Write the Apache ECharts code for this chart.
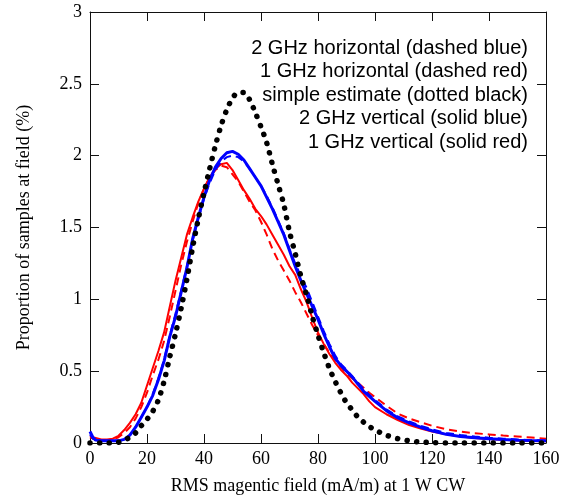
<!DOCTYPE html>
<html>
<head>
<meta charset="utf-8">
<script src="https://cdn.jsdelivr.net/npm/echarts@6/dist/echarts.min.js"></script>
<style>
html,body{margin:0;padding:0;background:#fff;}
#chart{width:569px;height:500px;}
</style>
</head>
<body>
<div id="chart"></div>
<script>
const xs = [0,1,2,4,6,8,10,12,14,16,18,20,22,24,26,28,30,32,34,36,38,40,42,44,46,48,50,52,54,56,58,60,62,64,66,68,70,72,74,76,78,80,82,84,86,88,90,92,94,96,98,100,104,108,112,116,120,125,130,135,140,145,150,155,160];

const simpleEstimate = [0,0,0,0,0,0,
  0.005,0.02,0.04,0.07,0.12,0.165,0.22,0.30,0.43,0.60,
  0.76,0.94,1.14,1.36,1.56,1.74,1.91,2.07,2.21,2.32,
  2.40,2.44,2.44,2.39,2.30,2.20,2.09,1.94,1.80,1.66,
  1.47,1.32,1.16,1.03,0.88,0.75,0.63,0.52,0.43,0.35,
  0.28,0.23,0.18,0.145,0.115,0.09,
  0.055,0.03,0.015,0.007,0.003,
  0,0,0,0,0,0,0,0];

const ghz2Vertical = [0.08,0.04,0.02,0.015,0.015,0.015,
  0.015,0.025,0.055,0.11,0.18,0.25,0.33,0.44,0.57,0.74,
  0.88,1.05,1.22,1.42,1.57,1.71,1.83,1.92,1.98,2.02,
  2.03,2.01,1.97,1.91,1.85,1.79,1.71,1.63,1.54,1.45,
  1.34,1.23,1.13,1.04,0.95,0.86,0.76,0.67,0.59,0.54,
  0.50,0.46,0.41,0.36,0.325,0.29,
  0.225,0.175,0.14,0.11,0.085,
  0.06,0.045,0.037,0.03,0.024,0.02,0.017,0.015];

const ghz2Horizontal = [0.06,0.03,0.02,0.015,0.015,0.015,
  0.015,0.025,0.055,0.11,0.18,0.25,0.34,0.45,0.58,0.75,
  0.90,1.06,1.23,1.41,1.56,1.70,1.81,1.90,1.96,1.99,
  2.00,1.99,1.96,1.91,1.85,1.79,1.72,1.64,1.55,1.46,
  1.35,1.25,1.16,1.08,0.98,0.88,0.78,0.69,0.61,0.55,
  0.51,0.465,0.42,0.375,0.335,0.30,
  0.235,0.185,0.15,0.12,0.095,
  0.07,0.055,0.045,0.037,0.03,0.025,0.02,0.018];

const ghz1Vertical = [0.05,0.04,0.035,0.025,0.025,0.03,
  0.05,0.09,0.14,0.20,0.28,0.40,0.52,0.64,0.77,0.95,
  1.13,1.29,1.45,1.57,1.68,1.77,1.85,1.91,1.94,1.95,
  1.90,1.83,1.76,1.70,1.63,1.58,1.52,1.45,1.38,1.31,
  1.23,1.17,1.07,0.98,0.87,0.77,0.69,0.62,0.56,0.51,
  0.47,0.42,0.38,0.34,0.29,0.25,
  0.20,0.16,0.125,0.10,0.08,
  0.06,0.045,0.035,0.028,0.022,0.018,0.014,0.012];

const ghz1Horizontal = [0.04,0.03,0.025,0.02,0.02,0.025,
  0.04,0.07,0.11,0.17,0.25,0.35,0.47,0.58,0.71,0.88,
  1.06,1.24,1.40,1.54,1.67,1.77,1.85,1.90,1.93,1.92,
  1.87,1.82,1.75,1.68,1.62,1.54,1.45,1.35,1.27,1.20,
  1.13,1.05,0.98,0.90,0.82,0.75,0.69,0.63,0.58,0.53,
  0.48,0.45,0.42,0.385,0.35,0.32,
  0.26,0.205,0.17,0.145,0.12,
  0.095,0.08,0.068,0.06,0.052,0.045,0.038,0.03];

const legendLines = [
  '2 GHz horizontal (dashed blue)',
  '1 GHz horizontal (dashed red)',
  'simple estimate (dotted black)',
  '2 GHz vertical (solid blue)',
  '1 GHz vertical (solid red)'
];

const xTitle = 'RMS magentic field (mA/m) at 1 W CW';
const yTitle = 'Proportion of samples at field (%)';

const pairs = arr => xs.map((x, i) => [x, arr[i]]);
const serif = 'Liberation Serif, Times New Roman, serif';
const sans = 'Liberation Sans, Arial, sans-serif';
const axisCol = '#111';

const chart = echarts.init(document.getElementById('chart'), null, {renderer: 'canvas'});

const baseX = {
  type: 'value', min: 0, max: 160, interval: 20,
  axisLine: {show: true, onZero: false, lineStyle: {color: axisCol, width: 1}},
  axisTick: {show: true, inside: true, length: 9, lineStyle: {color: axisCol}},
  splitLine: {show: false}
};
const baseY = {
  type: 'value', min: 0, max: 3, interval: 0.5,
  axisLine: {show: true, onZero: false, lineStyle: {color: axisCol, width: 1}},
  axisTick: {show: true, inside: true, length: 9, lineStyle: {color: axisCol}},
  splitLine: {show: false}
};

const option = {
  animation: false,
  backgroundColor: '#fff',
  grid: {left: 90, right: 23, top: 12, bottom: 57},
  xAxis: [
    Object.assign({}, baseX, {
      position: 'bottom',
      axisLabel: {fontFamily: serif, fontSize: 18, color: '#000', margin: 7},
      name: xTitle, nameLocation: 'middle', nameGap: 34,
      nameTextStyle: {fontFamily: serif, fontSize: 18, color: '#000'}
    }),
    Object.assign({}, baseX, {position: 'top', axisLabel: {show: false}})
  ],
  yAxis: [
    Object.assign({}, baseY, {
      position: 'left',
      axisLabel: {fontFamily: serif, fontSize: 18, color: '#000', margin: 8},
      name: yTitle, nameLocation: 'middle', nameGap: 57,
      nameTextStyle: {fontFamily: serif, fontSize: 18, color: '#000'}
    }),
    Object.assign({}, baseY, {position: 'right', axisLabel: {show: false}})
  ],
  graphic: legendLines.map((t, i) => ({
    type: 'text', right: 569 - 528, top: 38 + i * 23.5, silent: true,
    style: {text: t, fontFamily: sans, fontSize: 20, fill: '#000'}
  })),
  series: [
    {type: 'line', name: '1 GHz horizontal', data: pairs(ghz1Horizontal), showSymbol: false,
     lineStyle: {color: '#ff0000', width: 2, type: [8, 5]}, z: 2},
    {type: 'line', name: '1 GHz vertical', data: pairs(ghz1Vertical), showSymbol: false,
     lineStyle: {color: '#ff0000', width: 2}, z: 3},
    {type: 'line', name: '2 GHz horizontal', data: pairs(ghz2Horizontal), showSymbol: false,
     lineStyle: {color: '#0000ff', width: 2, type: [8, 5]}, z: 4},
    {type: 'line', name: '2 GHz vertical', data: pairs(ghz2Vertical), showSymbol: false,
     lineStyle: {color: '#0000ff', width: 3}, z: 5},
    {type: 'line', name: 'simple estimate', data: pairs(simpleEstimate), showSymbol: false, smooth: 0.3,
     lineStyle: {color: '#000', width: 5.5, type: [0.1, 9.5], cap: 'round'}, z: 6}
  ]
};
chart.setOption(option);
</script>
</body>
</html>
